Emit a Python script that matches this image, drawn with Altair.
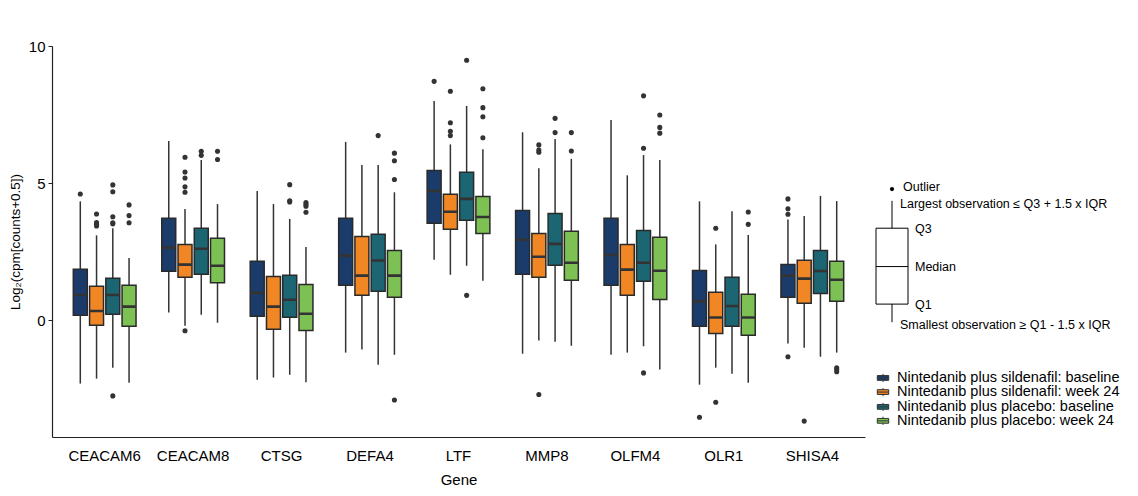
import altair as alt
import pandas as pd

FONT = "Liberation Sans"

genes = ["CEACAM6", "CEACAM8", "CTSG", "DEFA4", "LTF", "MMP8", "OLFM4", "OLR1", "SHISA4"]
groups = [
    "Nintedanib plus sildenafil: baseline",
    "Nintedanib plus sildenafil: week 24",
    "Nintedanib plus placebo: baseline",
    "Nintedanib plus placebo: week 24",
]
colors = ["#1b3c6b", "#f08624", "#1b6672", "#7dc155"]

# per gene, 4 groups each (gene-major order)
whisker_low = [
    -2.32, -2.14, -1.74, -2.29,
    0.27, -0.21, 0.19, -0.10,
    -2.18, -2.10, -2.00, -2.27,
    -1.19, -1.08, -1.63, -1.27,
    2.20, 1.65, 1.98, 1.43,
    -1.23, -0.75, -0.79, -0.94,
    -1.27, -1.19, -0.96, -1.81,
    -2.36, -1.74, -1.96, -2.29,
    -0.86, -1.01, -1.34, -1.19,
]
q1 = [
    0.17, -0.19, 0.21, -0.23,
    1.78, 1.56, 1.67, 1.36,
    0.14, -0.34, 0.10, -0.38,
    1.27, 0.90, 1.05, 0.83,
    3.53, 3.31, 3.64, 3.16,
    1.67, 1.56, 2.00, 1.45,
    1.27, 0.90, 1.41, 0.75,
    -0.23, -0.49, -0.23, -0.56,
    0.83, 0.61, 0.97, 0.68,
]
median = [
    0.91, 0.33, 0.91, 0.49,
    2.64, 2.02, 2.60, 1.98,
    0.99, 0.49, 0.74, 0.23,
    2.35, 1.62, 2.17, 1.62,
    4.71, 3.95, 4.42, 3.76,
    2.93, 2.31, 2.78, 2.09,
    2.37, 1.84, 2.09, 1.80,
    0.68, 0.09, 0.51, 0.09,
    1.62, 1.51, 1.79, 1.47,
]
q3 = [
    1.85, 1.23, 1.52, 1.27,
    3.71, 2.76, 3.35, 2.98,
    2.14, 1.59, 1.63, 1.30,
    3.71, 3.05, 3.13, 2.54,
    5.46, 4.59, 5.39, 4.51,
    4.00, 3.16, 3.89, 3.24,
    3.71, 2.76, 3.27, 3.02,
    1.81, 1.01, 1.56, 0.94,
    2.03, 2.18, 2.54, 2.14,
]
whisker_high = [
    4.33, 3.09, 3.35, 2.26,
    6.53, 4.05, 5.84, 4.23,
    4.71, 4.23, 3.69, 2.66,
    6.50, 5.66, 5.66, 4.66,
    7.99, 6.41, 7.81, 6.23,
    6.85, 5.54, 6.61, 5.88,
    7.30, 5.28, 6.02, 5.84,
    4.33, 2.76, 3.97, 3.10,
    3.67, 3.80, 4.53, 4.34,
]

outlier_gene = (
    ["CEACAM6"] * 14
    + ["CEACAM8"] * 10
    + ["CTSG"] * 7
    + ["DEFA4"] * 5
    + ["LTF"] * 11
    + ["MMP8"] * 8
    + ["OLFM4"] * 6
    + ["OLR1"] * 5
    + ["SHISA4"] * 8
)
outlier_group = (
    [0] + [1] * 4 + [2] * 6 + [3] * 3
    + [1] * 6 + [2] * 2 + [3] * 2
    + [2] * 3 + [3] * 4
    + [2] + [3] * 4
    + [0] + [1] * 4 + [2] * 2 + [3] * 4
    + [1] * 4 + [2] * 2 + [3] * 2
    + [2] * 3 + [3] * 3
    + [0] + [1] * 2 + [3] * 2
    + [0] * 4 + [1] + [3] * 3
)
outlier_value = (
    [4.60, 3.87, 3.56, 3.49, 3.43, 4.93, 4.68, 3.77, 3.55, 3.51, -2.77, 4.20, 3.81, 3.55]
    + [5.94, 5.40, 5.18, 4.86, 4.66, -0.39, 6.16, 6.01, 6.16, 5.86]
    + [4.94, 4.35, 4.31, 4.29, 4.22, 4.15, 3.93]
    + [6.73, 6.09, 5.81, 5.13, -2.92]
    + [8.71, 8.35, 7.20, 6.89, 6.73, 9.48, 0.90, 8.44, 7.75, 7.42, 6.65]
    + [6.39, 6.20, 6.12, -2.72, 7.36, 6.84, 6.84, 6.17]
    + [8.18, 6.27, -1.93, 7.48, 7.03, 6.82]
    + [-3.55, 3.35, -3.00, 3.94, 3.49]
    + [4.42, 4.06, 3.86, -1.34, -3.69, -1.74, -1.81, -1.89]
)

# schematic key (right side)
key_stats = {"wlo": -0.08, "q1": 0.58, "med": 1.95, "q3": 3.35, "whi": 4.35, "out": 4.78}
key_labels = [
    "Outlier",
    "Largest observation \u2264 Q3 + 1.5 x IQR",
    "Q3",
    "Median",
    "Q1",
    "Smallest observation \u2265 Q1 - 1.5 x IQR",
]
key_label_y = [4.84, 4.23, 3.32, 1.93, 0.55, -0.20]
key_label_x = [37, 34, 49, 49, 49, 34]
legend_y = [-2.115, -2.63, -3.17, -3.68]

Y_DOMAIN = [-4.27, 10]

rows = []
for gi, g in enumerate(genes):
    for k, grp in enumerate(groups):
        i = gi * 4 + k
        rows.append(
            dict(gene=g, group=grp, wlo=whisker_low[i], q1=q1[i], med=median[i], q3=q3[i], whi=whisker_high[i])
        )
box_df = pd.DataFrame(rows)
out_df = pd.DataFrame(
    {"gene": outlier_gene, "group": [groups[i] for i in outlier_group], "value": outlier_value}
)

xenc = alt.X(
    "gene:N",
    sort=genes,
    title="Gene",
    scale=alt.Scale(paddingInner=0.265, paddingOuter=0.228),
    axis=alt.Axis(
        labelAngle=0, ticks=False, labelFontSize=15, titleFontSize=15, labelPadding=11,
        titlePadding=9, labelFont=FONT, titleFont=FONT, labelColor="#000", titleColor="#000",
        titleFontWeight="normal", domainColor="#222", domainWidth=1.2,
    ),
)
xoff = alt.XOffset("group:N", sort=groups, scale=alt.Scale(paddingInner=0.14, paddingOuter=0.07))
color = alt.Color("group:N", sort=groups, scale=alt.Scale(domain=groups, range=colors), legend=None)
yscale = alt.Scale(domain=Y_DOMAIN, nice=False, zero=False)
yaxis = alt.Axis(
    values=[0, 5, 10], grid=False, title="Log\u2082(cpm[counts+0.5])", labelFontSize=15,
    titleFontSize=13.5, tickSize=4, labelPadding=3, titlePadding=6, labelFont=FONT, titleFont=FONT,
    labelColor="#000", titleColor="#000", titleFontWeight="normal", domainColor="#222",
    tickColor="#222", domainWidth=1.2,
)

base = alt.Chart(box_df)
whiskers = base.mark_rule(color="#333", strokeWidth=1.5).encode(
    x=xenc, xOffset=xoff, y=alt.Y("wlo:Q", scale=yscale, axis=yaxis), y2="whi:Q"
)
boxes = base.mark_bar(stroke="#2a2a2a", strokeWidth=1.5, opacity=1).encode(
    x=xenc, xOffset=xoff, y=alt.Y("q1:Q", scale=yscale, axis=yaxis), y2="q3:Q", color=color
)
medians = base.mark_bar(stroke="#333", strokeWidth=2.6, fillOpacity=0).encode(
    x=xenc, xOffset=xoff, y=alt.Y("med:Q", scale=yscale, axis=yaxis), y2="med:Q"
)
outliers = alt.Chart(out_df).mark_circle(size=26, color="#333", opacity=1).encode(
    x=xenc, xOffset=xoff, y=alt.Y("value:Q", scale=yscale, axis=yaxis)
)
main = alt.layer(whiskers, boxes, medians, outliers).properties(width=813, height=391)

# side panel
SIDE_W = 255
sx = alt.Scale(domain=[0, SIDE_W], nice=False, zero=False)
sy = alt.Scale(domain=Y_DOMAIN, nice=False, zero=False)
key_df = pd.DataFrame([dict(cx=26, x0=10, x1=42, **key_stats)])
k_whisk = alt.Chart(key_df).mark_rule(color="#000", strokeWidth=1).encode(
    x=alt.X("cx:Q", scale=sx, axis=None), y=alt.Y("wlo:Q", scale=sy, axis=None), y2="whi:Q"
)
k_box = alt.Chart(key_df).mark_rect(fill="white", stroke="#000", strokeWidth=1).encode(
    x=alt.X("x0:Q", scale=sx, axis=None), x2="x1:Q", y=alt.Y("q1:Q", scale=sy, axis=None), y2="q3:Q"
)
k_med = alt.Chart(key_df).mark_rule(color="#000", strokeWidth=1).encode(
    x=alt.X("x0:Q", scale=sx, axis=None), x2="x1:Q", y=alt.Y("med:Q", scale=sy, axis=None)
)
k_out = alt.Chart(key_df).mark_circle(size=18, color="#000", opacity=1).encode(
    x=alt.X("cx:Q", scale=sx, axis=None), y=alt.Y("out:Q", scale=sy, axis=None)
)
klab_df = pd.DataFrame({"label": key_labels, "x": key_label_x, "y": key_label_y})
k_text = alt.Chart(klab_df).mark_text(align="left", baseline="middle", fontSize=12.5, font=FONT, color="#000").encode(
    x=alt.X("x:Q", scale=sx, axis=None), y=alt.Y("y:Q", scale=sy, axis=None), text="label:N"
)
leg_df = pd.DataFrame({"group": groups, "y": legend_y, "sx": [17] * 4, "tx": [31] * 4})
SYMBOL = "M-1,-0.42H1V0.42H-1Z M-1,0H1 M0,-0.42V-0.72 M0,0.42V0.72"
l_sym = alt.Chart(leg_df).mark_point(shape=SYMBOL, filled=True, size=130, stroke="#333", strokeWidth=1, opacity=1).encode(
    x=alt.X("sx:Q", scale=sx, axis=None), y=alt.Y("y:Q", scale=sy, axis=None), fill=alt.Fill("group:N", sort=groups, scale=alt.Scale(domain=groups, range=colors), legend=None)
)
l_text = alt.Chart(leg_df).mark_text(align="left", baseline="middle", fontSize=14.5, font=FONT, color="#000").encode(
    x=alt.X("tx:Q", scale=sx, axis=None), y=alt.Y("y:Q", scale=sy, axis=None), text="group:N"
)
side = alt.layer(k_whisk, k_box, k_med, k_out, k_text, l_sym, l_text).properties(width=SIDE_W, height=391)

chart = (
    alt.hconcat(main, side, spacing=1)
    .properties(padding={"left": 0, "top": 31, "right": 0, "bottom": 5})
    .configure(font=FONT)
    .configure_view(strokeWidth=0, stroke="transparent")
)

chart.save("out.html", embed_options={"renderer": "svg", "actions": False})
